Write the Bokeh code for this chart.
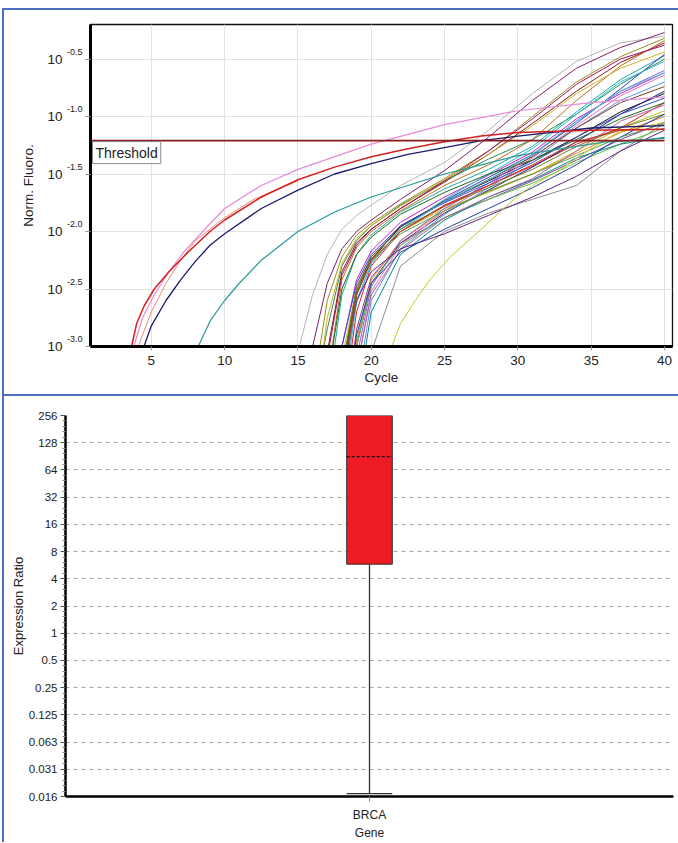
from bokeh.plotting import figure
from bokeh.models import Range1d, FixedTicker, Label, CustomJSTickFormatter, LogAxis
from bokeh.embed import file_html
from bokeh.resources import INLINE

FONT = "Liberation Sans"
BLUE = "#4a6fc0"

# ---------------- top panel: amplification curves ----------------
X_TICKS = [5, 10, 15, 20, 25, 30, 35, 40]
Y_TICK_EXP = [-3.0, -2.5, -2.0, -1.5, -1.0, -0.5]
Y_TICK_TEXT = ["-3.0", "-2.5", "-2.0", "-1.5", "-1.0", "-0.5"]
THRESHOLD = 0.0617

# early-rising curves (log10 of normalised fluorescence)
PINK_X = [3.8, 4.4, 5.2, 6.2, 7.2, 8.5, 10, 12.5, 15, 20, 25, 30, 35, 40]
PINK_Y = [-3.0, -2.75, -2.55, -2.35, -2.18, -2.0, -1.8, -1.6, -1.46, -1.24, -1.07, -0.95, -0.88, -0.83]
RED_X = [3.65, 4.0, 4.5, 5.2, 6.2, 7.5, 9, 10, 12.5, 15, 17.5, 20, 22.5, 25, 27.5, 30, 35, 40]
RED_Y = [-3.0, -2.8, -2.65, -2.5, -2.35, -2.18, -2.0, -1.9, -1.7, -1.55, -1.44, -1.35, -1.28, -1.22, -1.17, -1.14, -1.12, -1.11]
SALMON_X = [4.1, 5, 6, 7, 8, 10, 12, 15]
SALMON_Y = [-3.0, -2.7, -2.45, -2.25, -2.08, -1.88, -1.72, -1.56]
NAVY_X = [4.5, 5, 6, 7, 8, 9, 10, 12.5, 15, 17.5, 20, 22.5, 25, 27.5, 30, 35, 40]
NAVY_Y = [-3.0, -2.82, -2.6, -2.42, -2.26, -2.12, -2.02, -1.8, -1.64, -1.5, -1.41, -1.33, -1.27, -1.21, -1.17, -1.1, -1.08]
TEAL_X = [8.2, 9, 10, 11, 12.5, 15, 17.5, 20, 22.5, 25, 27.5, 30, 33, 36, 40]
TEAL_Y = [-3.0, -2.78, -2.6, -2.45, -2.25, -2.0, -1.83, -1.7, -1.6, -1.5, -1.42, -1.34, -1.28, -1.22, -1.19]
YELLOW_X = [21.4, 22, 23, 24, 25.4, 27.5, 29.9, 31, 32.9, 34.5, 36.8, 40]
YELLOW_Y = [-3.0, -2.8, -2.6, -2.42, -2.22, -1.98, -1.7, -1.6, -1.46, -1.32, -1.14, -1.05]

# main group of curves, sampled on a common cycle grid
MAIN_CYCLES = [15, 16, 17, 18, 19, 20, 22, 25, 28, 31, 34, 37, 40]
MAIN_LOG = [
    [-3.05, -2.55, -2.2, -1.98, -1.86, -1.77, -1.6, -1.4, -1.12, -0.8, -0.52, -0.36, -0.3],
    [-3.8, -3.0, -2.45, -2.15, -2.0, -1.9, -1.72, -1.47, -1.18, -0.86, -0.58, -0.4, -0.27],
    [-3.8, -3.4, -2.6, -2.22, -2.03, -1.93, -1.76, -1.54, -1.3, -1.0, -0.7, -0.48, -0.32],
    [-3.8, -3.8, -3.05, -2.35, -2.1, -1.98, -1.8, -1.57, -1.33, -1.06, -0.78, -0.53, -0.36],
    [-3.8, -3.8, -3.3, -2.42, -2.14, -2.0, -1.82, -1.6, -1.42, -1.2, -0.86, -0.56, -0.34],
    [-3.8, -3.5, -2.85, -2.3, -2.08, -1.95, -1.77, -1.56, -1.37, -1.2, -0.98, -0.72, -0.5],
    [-3.8, -3.8, -3.45, -2.55, -2.2, -2.03, -1.83, -1.63, -1.46, -1.26, -0.96, -0.68, -0.47],
    [-3.8, -3.8, -3.8, -3.25, -2.5, -2.22, -1.96, -1.73, -1.53, -1.33, -1.06, -0.76, -0.46],
    [-3.8, -3.8, -3.8, -3.0, -2.42, -2.17, -1.92, -1.7, -1.51, -1.31, -1.02, -0.8, -0.62],
    [-3.8, -3.8, -3.8, -3.3, -2.55, -2.25, -1.95, -1.74, -1.56, -1.38, -1.18, -0.96, -0.8],
    [-3.8, -3.8, -3.8, -3.6, -2.7, -2.3, -2.0, -1.77, -1.6, -1.43, -1.24, -1.1, -0.88],
    [-3.8, -3.8, -3.8, -3.5, -2.62, -2.28, -1.98, -1.72, -1.5, -1.28, -0.98, -0.7, -0.52],
    [-3.8, -3.8, -3.8, -3.1, -2.5, -2.25, -2.0, -1.8, -1.66, -1.5, -1.3, -1.1, -0.95],
    [-3.8, -3.8, -3.8, -3.8, -3.0, -2.45, -2.1, -1.84, -1.64, -1.44, -1.22, -0.98, -0.78],
    [-3.8, -3.8, -3.8, -3.8, -2.85, -2.4, -2.1, -1.88, -1.72, -1.56, -1.38, -1.2, -1.05],
    [-3.8, -3.8, -3.8, -3.8, -3.2, -2.52, -2.12, -1.82, -1.6, -1.36, -1.08, -0.82, -0.64],
    [-3.8, -3.8, -3.8, -3.8, -3.4, -2.6, -2.15, -1.85, -1.62, -1.38, -1.1, -0.86, -0.7],
    [-3.8, -3.8, -3.8, -3.8, -3.8, -3.05, -2.3, -2.0, -1.84, -1.72, -1.6, -1.3, -1.06],
    [-3.8, -3.8, -3.3, -2.5, -2.2, -2.05, -1.85, -1.66, -1.5, -1.38, -1.2, -1.02, -0.88],
    [-3.8, -3.8, -3.8, -3.8, -2.95, -2.42, -2.08, -1.82, -1.65, -1.5, -1.32, -1.14, -1.0],
    [-3.8, -3.8, -3.8, -3.8, -3.1, -2.48, -2.08, -1.8, -1.58, -1.34, -1.04, -0.78, -0.6],
    [-3.8, -3.8, -3.8, -3.2, -2.52, -2.24, -1.96, -1.74, -1.55, -1.35, -1.1, -0.88, -0.74],
    [-3.8, -3.8, -3.8, -3.8, -3.0, -2.45, -2.12, -1.88, -1.72, -1.58, -1.4, -1.24, -1.1],
    [-3.8, -3.8, -3.8, -3.8, -3.5, -2.7, -2.2, -1.9, -1.7, -1.55, -1.36, -1.24, -1.18],
    [-3.8, -3.8, -3.8, -3.0, -2.45, -2.2, -1.95, -1.75, -1.58, -1.4, -1.18, -0.98, -0.84],
    [-3.8, -3.8, -3.1, -2.38, -2.12, -1.98, -1.8, -1.56, -1.3, -1.02, -0.72, -0.5, -0.38],
    [-3.8, -3.7, -2.75, -2.28, -2.06, -1.95, -1.78, -1.55, -1.33, -1.08, -0.8, -0.58, -0.44],
    [-3.8, -3.8, -3.8, -3.4, -2.6, -2.28, -1.98, -1.74, -1.55, -1.33, -1.04, -0.78, -0.62],
    [-3.8, -3.8, -3.8, -3.2, -2.48, -2.22, -1.98, -1.78, -1.62, -1.46, -1.26, -1.1, -0.98],
    [-3.8, -3.8, -3.8, -3.8, -3.2, -2.55, -2.16, -1.88, -1.7, -1.54, -1.3, -1.04, -0.9],
    [-3.8, -3.8, -3.8, -3.3, -2.6, -2.35, -2.15, -2.02, -1.86, -1.7, -1.52, -1.3, -1.12],
    [-3.8, -3.8, -3.8, -3.8, -2.9, -2.45, -2.18, -1.98, -1.8, -1.62, -1.42, -1.18, -0.98],
    [-3.8, -3.8, -3.8, -3.4, -2.55, -2.26, -2.02, -1.82, -1.65, -1.5, -1.34, -1.18, -1.06],
    [-3.8, -3.8, -3.8, -3.3, -2.55, -2.25, -2.0, -1.78, -1.6, -1.42, -1.22, -1.12, -1.11],
]
MAIN_COLORS = [
    "#b4b4b4", "#7a1f6e", "#9a8a20", "#8b1a1a", "#c07020", "#2e8b57", "#20a8a8",
    "#2a3fb0", "#c020c0", "#111111", "#e02020", "#30b8d0", "#b8c020", "#1c1c80",
    "#8040a0", "#e070c0", "#6090e0", "#8c8c8c", "#1e6a1e", "#f08020", "#9060d0",
    "#7a4020", "#60c040", "#008888", "#3050d0", "#a01060", "#d0b020", "#40c0e0",
    "#708020", "#b060a0", "#602080", "#2040a0", "#50a050", "#c03030",
]

# ---------------- bottom panel: expression ratio box plot ----------------
GENES = ["BRCA"]
RATIO_TICKS = [0.015625, 0.03125, 0.0625, 0.125, 0.25, 0.5, 1, 2, 4, 8, 16, 32, 64, 128, 256]
RATIO_TICK_LABELS = ["0.016", "0.031", "0.063", "0.125", "0.25", "0.5", "1", "2", "4",
                     "8", "16", "32", "64", "128", "256"]
BOX_Q1 = [5.8]
BOX_Q3 = [256]
BOX_MEDIAN = [90]
WHISKER_LOW = [0.0168]


def pw(vals):
    return [10 ** v for v in vals]


LOOKUP_JS = """
let best = 0, bd = Infinity;
for (let i = 0; i < tvals.length; i++) {
  const d = Math.abs(Math.log(tvals[i]) - Math.log(tick));
  if (d < bd) { bd = d; best = i; }
}
return tlabels[best];
"""
LOOKUP_LIN_JS = """
let best = 0, bd = Infinity;
for (let i = 0; i < tvals.length; i++) {
  const d = Math.abs(tvals[i] - tick);
  if (d < bd) { bd = d; best = i; }
}
return tlabels[best];
"""

# ================= top figure =================
X0, X1 = 0.85, 40.55
Y0, Y1 = -3.0, -0.2
SHIFT = 0.0617  # superscript raise (decades), about 7 px
p1 = figure(width=676, height=388, x_range=Range1d(X0, X1),
            y_range=Range1d(10 ** Y0, 10 ** Y1), y_axis_type="log",
            output_backend="svg", toolbar_location=None,
            min_border_left=86, min_border_right=8, min_border_top=14, min_border_bottom=52)
p1.extra_y_ranges = {"sup": Range1d(10 ** (Y0 - SHIFT), 10 ** (Y1 - SHIFT))}
p1.outline_line_color = "#111111"
p1.outline_line_width = 1.3
p1.background_fill_color = "white"

p1.xaxis.ticker = FixedTicker(ticks=X_TICKS)
p1.xaxis.axis_line_width = 3
p1.xaxis.axis_line_color = "#000000"
p1.xaxis.major_tick_out = 4
p1.xaxis.major_tick_in = 0
p1.xaxis.major_tick_line_color = "#999999"
p1.xaxis.minor_tick_line_color = None
p1.xaxis.major_label_text_font = FONT
p1.xaxis.major_label_text_font_size = "13.5px"
p1.xaxis.major_label_text_color = "#222222"
p1.xaxis.major_label_standoff = 5
p1.xaxis.axis_label = "Cycle"
p1.xaxis.axis_label_text_font = FONT
p1.xaxis.axis_label_text_font_size = "13.5px"
p1.xaxis.axis_label_text_font_style = "normal"
p1.xaxis.axis_label_text_color = "#222222"
p1.xaxis.axis_label_standoff = 2

ytick_vals = pw(Y_TICK_EXP)
# axis 1: the frame's left line and tick marks
p1.yaxis.ticker = FixedTicker(ticks=ytick_vals)
p1.yaxis.formatter = CustomJSTickFormatter(code="return '';")
p1.yaxis.axis_line_width = 3
p1.yaxis.axis_line_color = "#000000"
p1.yaxis.major_tick_out = 5
p1.yaxis.major_tick_in = 0
p1.yaxis.major_tick_line_color = "#999999"
p1.yaxis.minor_tick_line_color = None
p1.yaxis.major_label_standoff = 0

# axis 2: superscript exponents
sup_axis = LogAxis(y_range_name="sup", ticker=FixedTicker(ticks=ytick_vals),
                   formatter=CustomJSTickFormatter(args=dict(tvals=ytick_vals, tlabels=Y_TICK_TEXT),
                                                   code=LOOKUP_JS),
                   axis_line_color=None, major_tick_line_color=None,
                   minor_tick_line_color=None, major_tick_out=0, major_tick_in=0,
                   major_label_standoff=3, major_label_text_font=FONT,
                   major_label_text_font_size="9px", major_label_text_color="#222222")
p1.add_layout(sup_axis, "left")

# axis 3: the base "10" and the axis title
base_axis = LogAxis(ticker=FixedTicker(ticks=ytick_vals),
                    formatter=CustomJSTickFormatter(code="return '10';"),
                    axis_line_color=None, major_tick_line_color=None,
                    minor_tick_line_color=None, major_tick_out=0, major_tick_in=0,
                    major_label_standoff=1, major_label_text_font=FONT,
                    major_label_text_font_size="13.5px", major_label_text_color="#222222",
                    axis_label="Norm. Fluoro.", axis_label_text_font=FONT,
                    axis_label_text_font_size="13.5px", axis_label_text_font_style="normal",
                    axis_label_text_color="#222222", axis_label_standoff=8)
p1.add_layout(base_axis, "left")

p1.xgrid.grid_line_color = "#e2e2e2"
p1.ygrid.grid_line_color = "#e2e2e2"

for vals, col in zip(MAIN_LOG, MAIN_COLORS):
    p1.line(MAIN_CYCLES, pw(vals), line_color=col, line_width=1)

p1.line(YELLOW_X, pw(YELLOW_Y), line_color="#c8c820", line_width=1)
p1.line(TEAL_X, pw(TEAL_Y), line_color="#2a9a98", line_width=1.2)
p1.line(SALMON_X, pw(SALMON_Y), line_color="#f08a78", line_width=1)
p1.line(NAVY_X, pw(NAVY_Y), line_color="#1a1a6e", line_width=1.3)
p1.line(PINK_X, pw(PINK_Y), line_color="#e58ad8", line_width=1.2)
p1.line(RED_X, pw(RED_Y), line_color="#d42020", line_width=1.5)

p1.line([X0, X_TICKS[-1]], [THRESHOLD, THRESHOLD], line_color="#8b1a1a", line_width=1.6)
p1.add_layout(Label(x=X0, y=THRESHOLD, text="Threshold", x_offset=2, y_offset=-1,
                    text_font=FONT, text_font_size="14px", text_color="#222222",
                    text_baseline="top", text_align="left",
                    background_fill_color="white", border_line_color="#8a8a8a",
                    border_line_width=1, padding=(3, 3)))

p1.styles = {"margin-top": "8px", "margin-left": "2px",
             "border-top": "2px solid " + BLUE, "border-left": "2px solid " + BLUE,
             "border-bottom": "2px solid " + BLUE}

# ================= bottom figure =================
gx = [i + 0.5 for i in range(len(GENES))]
BOX_W = 0.075
p2 = figure(width=676, height=446, x_range=Range1d(0, len(GENES)),
            y_range=Range1d(RATIO_TICKS[0], RATIO_TICKS[-1]), y_axis_type="log",
            output_backend="svg", toolbar_location=None,
            min_border_left=61, min_border_right=7, min_border_top=19, min_border_bottom=41)
p2.outline_line_color = None
p2.xgrid.grid_line_color = None
p2.ygrid.ticker = FixedTicker(ticks=RATIO_TICKS[1:-1])
p2.ygrid.grid_line_color = "#a8a8a8"
p2.ygrid.grid_line_dash = "4 4"
p2.ygrid.grid_line_width = 1

minor = [t * 2 ** f for t in RATIO_TICKS[:-1] for f in (0.2, 0.4, 0.6, 0.8)]
p2.yaxis.ticker = FixedTicker(ticks=RATIO_TICKS, minor_ticks=minor)
p2.yaxis.formatter = CustomJSTickFormatter(args=dict(tvals=RATIO_TICKS, tlabels=RATIO_TICK_LABELS),
                                           code=LOOKUP_JS)
p2.yaxis.axis_line_width = 2.5
p2.yaxis.axis_line_color = "#000000"
p2.yaxis.major_tick_out = 5
p2.yaxis.major_tick_in = 0
p2.yaxis.major_tick_line_color = "#555555"
p2.yaxis.minor_tick_out = 3
p2.yaxis.minor_tick_in = 0
p2.yaxis.minor_tick_line_color = "#888888"
p2.yaxis.major_label_text_font = FONT
p2.yaxis.major_label_text_font_size = "11.5px"
p2.yaxis.major_label_text_color = "#222222"
p2.yaxis.major_label_standoff = 3
p2.yaxis.axis_label = "Expression Ratio"
p2.yaxis.axis_label_text_font = FONT
p2.yaxis.axis_label_text_font_size = "13px"
p2.yaxis.axis_label_text_font_style = "normal"
p2.yaxis.axis_label_text_color = "#222222"
p2.yaxis.axis_label_standoff = 0

p2.xaxis.ticker = FixedTicker(ticks=gx)
p2.xaxis.formatter = CustomJSTickFormatter(args=dict(tvals=gx, tlabels=GENES), code=LOOKUP_LIN_JS)
p2.xaxis.axis_line_width = 2.5
p2.xaxis.axis_line_color = "#000000"
p2.xaxis.major_tick_out = 5
p2.xaxis.major_tick_in = 0
p2.xaxis.major_tick_line_color = "#888888"
p2.xaxis.minor_tick_line_color = None
p2.xaxis.major_label_text_font = FONT
p2.xaxis.major_label_text_font_size = "12px"
p2.xaxis.major_label_text_color = "#222222"
p2.xaxis.major_label_standoff = 6
p2.xaxis.axis_label = "Gene"
p2.xaxis.axis_label_text_font = FONT
p2.xaxis.axis_label_text_font_size = "12px"
p2.xaxis.axis_label_text_font_style = "normal"
p2.xaxis.axis_label_text_color = "#222222"
p2.xaxis.axis_label_standoff = 1

p2.segment(x0=gx, x1=gx, y0=WHISKER_LOW, y1=BOX_Q1, line_color="#333333", line_width=1.3)
p2.segment(x0=[g - BOX_W / 2 for g in gx], x1=[g + BOX_W / 2 for g in gx],
           y0=WHISKER_LOW, y1=WHISKER_LOW, line_color="#333333", line_width=1.3)
p2.vbar(x=gx, width=BOX_W, bottom=BOX_Q1, top=BOX_Q3, fill_color="#ed1c24",
        line_color="#333333", line_width=1)
p2.segment(x0=[g - BOX_W / 2 for g in gx], x1=[g + BOX_W / 2 for g in gx],
           y0=BOX_MEDIAN, y1=BOX_MEDIAN, line_color="#111111", line_width=1.2, line_dash="3 2")

p2.styles = {"margin-left": "2px", "border-left": "2px solid " + BLUE}

# two separate roots so the plot frames are laid out independently
open("out.html", "w").write(file_html([p1, p2], INLINE))
